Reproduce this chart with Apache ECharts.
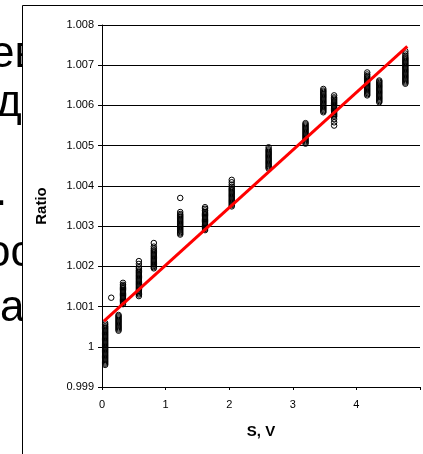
<!DOCTYPE html>
<html>
<head>
<meta charset="utf-8">
<script src="https://cdn.jsdelivr.net/npm/echarts@6/dist/echarts.min.js"></script>
<style>
html,body{margin:0;padding:0;background:#fff;}
#chart{width:423px;height:454px;}
</style>
</head>
<body>
<div id="chart"></div>
<script>
// Voltage (S, V) of each measurement column
const columnS = [0.05, 0.145, 0.26, 0.33, 0.58, 0.815, 1.23, 1.62, 2.04, 2.62, 3.2, 3.48, 3.65, 4.17, 4.36, 4.77];
// Ratio values read for each column
const col01 = [0.99955,0.99958,0.99961,0.99964,0.99967,0.9997,0.99973,0.99976,0.99979,0.99982,0.99985,0.99988,0.99991,0.99994,0.99997,1.0,1.00003,1.00006,1.00009,1.00012,1.00015,1.00018,1.00021,1.00024,1.00027,1.0003,1.00033,1.00036,1.00039,1.00042,1.00045,1.00048,1.00051,1.00055,1.00059];
const col02 = [1.00122];
const col03 = [1.0004,1.00043,1.00046,1.00049,1.00052,1.00055,1.00058,1.00061,1.00064,1.00067,1.0007,1.00073,1.00076,1.00079];
const col04 = [1.00106,1.00109,1.00112,1.00115,1.00118,1.00121,1.00124,1.00127,1.0013,1.00133,1.00136,1.00139,1.00142,1.00145,1.00148,1.00151,1.00154,1.00159];
const col05 = [1.00126,1.0013,1.00133,1.00136,1.00139,1.00142,1.00145,1.00148,1.00151,1.00154,1.00157,1.0016,1.00163,1.00166,1.00169,1.00172,1.00175,1.00178,1.00181,1.00184,1.00187,1.0019,1.00194,1.00198,1.00206,1.00213];
const col06 = [1.00195,1.00198,1.00201,1.00204,1.00207,1.0021,1.00213,1.00216,1.00219,1.00222,1.00225,1.00228,1.00231,1.00234,1.00237,1.0024,1.00244,1.00249,1.00258];
const col07 = [1.00279,1.00282,1.00285,1.00288,1.00291,1.00294,1.00297,1.003,1.00303,1.00306,1.00309,1.00312,1.00315,1.00318,1.00321,1.00324,1.00327,1.0033,1.00335,1.0037];
const col08 = [1.0029,1.00293,1.00296,1.00299,1.00302,1.00305,1.00308,1.00311,1.00314,1.00317,1.0032,1.00323,1.00326,1.00329,1.00332,1.00335,1.00339,1.00343,1.00347];
const col09 = [1.00349,1.00352,1.00355,1.00358,1.00361,1.00364,1.00367,1.0037,1.00373,1.00376,1.00379,1.00382,1.00385,1.00388,1.00391,1.00394,1.00398,1.00403,1.00409,1.00415];
const col10 = [1.00443,1.00446,1.00449,1.00452,1.00455,1.00458,1.00461,1.00464,1.00467,1.0047,1.00473,1.00476,1.00479,1.00482,1.00485,1.00488,1.00491,1.00496];
const col11 = [1.00505,1.00508,1.00511,1.00514,1.00517,1.0052,1.00523,1.00526,1.00529,1.00532,1.00535,1.00538,1.00541,1.00544,1.00547,1.0055,1.00553,1.00556];
const col12 = [1.00583,1.00586,1.00589,1.00592,1.00595,1.00598,1.00601,1.00604,1.00607,1.0061,1.00613,1.00616,1.00619,1.00622,1.00625,1.00628,1.00631,1.00634,1.00637,1.00641];
const col13 = [1.0055,1.00558,1.00566,1.00572,1.00575,1.00578,1.00581,1.00584,1.00587,1.0059,1.00593,1.00596,1.00599,1.00602,1.00605,1.00608,1.00611,1.00614,1.00617,1.0062,1.00625];
const col14 = [1.00625,1.00628,1.00631,1.00634,1.00637,1.0064,1.00643,1.00646,1.00649,1.00652,1.00655,1.00658,1.00661,1.00664,1.00667,1.0067,1.00673,1.00677,1.00682];
const col15 = [1.00608,1.00611,1.00614,1.00617,1.0062,1.00623,1.00626,1.00629,1.00632,1.00635,1.00638,1.00641,1.00644,1.00647,1.0065,1.00653,1.00656,1.00659,1.00662];
const col16 = [1.00654,1.00657,1.0066,1.00663,1.00666,1.00669,1.00672,1.00675,1.00678,1.00681,1.00684,1.00687,1.0069,1.00693,1.00696,1.00699,1.00702,1.00705,1.00708,1.00711,1.00714,1.00717,1.0072,1.00724,1.00729,1.00735];
// Linear fit endpoints
const fitS = [0.03, 4.8];
const fitRatio = [1.00064, 1.00747];
// Tick labels
const yTickLabels = ['0.999','1','1.001','1.002','1.003','1.004','1.005','1.006','1.007','1.008'];
const xTickLabels = ['0','1','2','3','4'];
// Background slide text fragments
const bgLines = ['ев','ди','.','ос','а'];

const columns = [col01,col02,col03,col04,col05,col06,col07,col08,col09,col10,col11,col12,col13,col14,col15,col16];
const scatterData = [];
columns.forEach((vals, i) => vals.forEach(v => scatterData.push([columnS[i], v])));
const fitData = fitS.map((s, i) => [s, fitRatio[i]]);

const FONT = '"Liberation Sans", Arial, sans-serif';
const chart = echarts.init(document.getElementById('chart'), null, {renderer:'canvas'});

const bgPos = [[-10, 73],[-4, 122],[-5, 211],[-14, 272],[0, 327]];
const graphics = bgLines.map((t, i) => ({
  type:'text', z:-10, left: bgPos[i][0], top: bgPos[i][1] - 40,
  style:{text:t, font:'44px ' + FONT, fill:'#000'}
}));
graphics.push({type:'rect', z:-5, shape:{x:22.5, y:5.5, width:600, height:600},
  style:{fill:'#fff', stroke:'#000', lineWidth:1}});

chart.setOption({
  animation:false,
  backgroundColor:'#fff',
  graphic: graphics,
  grid:{left:102, right:-4, top:25, bottom:67, containLabel:false},
  xAxis:{
    type:'value', min:0, max:5, interval:1,
    name:'S, V', nameLocation:'middle', nameGap:37,
    nameTextStyle:{fontFamily:FONT, fontWeight:'bold', fontSize:15, color:'#000'},
    axisLine:{lineStyle:{color:'#000', width:1}},
    axisTick:{show:true, length:3, lineStyle:{color:'#000'}},
    axisLabel:{fontFamily:FONT, fontSize:11, color:'#000', margin:12,
      formatter:(v)=>{const i=Math.round(v); return i < xTickLabels.length ? xTickLabels[i] : '';}},
    splitLine:{show:false}
  },
  yAxis:{
    type:'value', min:0.999, max:1.008, interval:0.001,
    name:'Ratio', nameLocation:'middle', nameGap:53, nameRotate:90,
    nameTextStyle:{fontFamily:FONT, fontWeight:'bold', fontSize:15, color:'#000'},
    axisLine:{show:true, lineStyle:{color:'#000', width:1}},
    axisTick:{show:true, length:4, lineStyle:{color:'#000'}},
    axisLabel:{fontFamily:FONT, fontSize:11, color:'#000', margin:8,
      formatter:(v)=>yTickLabels[Math.round((v-0.999)*1000)]},
    splitLine:{show:true, lineStyle:{color:'#000', width:1}}
  },
  series:[
    {type:'scatter', data:scatterData, symbol:'circle', symbolSize:5.5,
      itemStyle:{color:'rgba(0,0,0,0)', borderColor:'#000', borderWidth:1, opacity:1}, z:3},
    {type:'line', data:fitData, showSymbol:false, symbol:'none',
      lineStyle:{color:'#ff0000', width:3}, z:4}
  ]
});
</script>
</body>
</html>
